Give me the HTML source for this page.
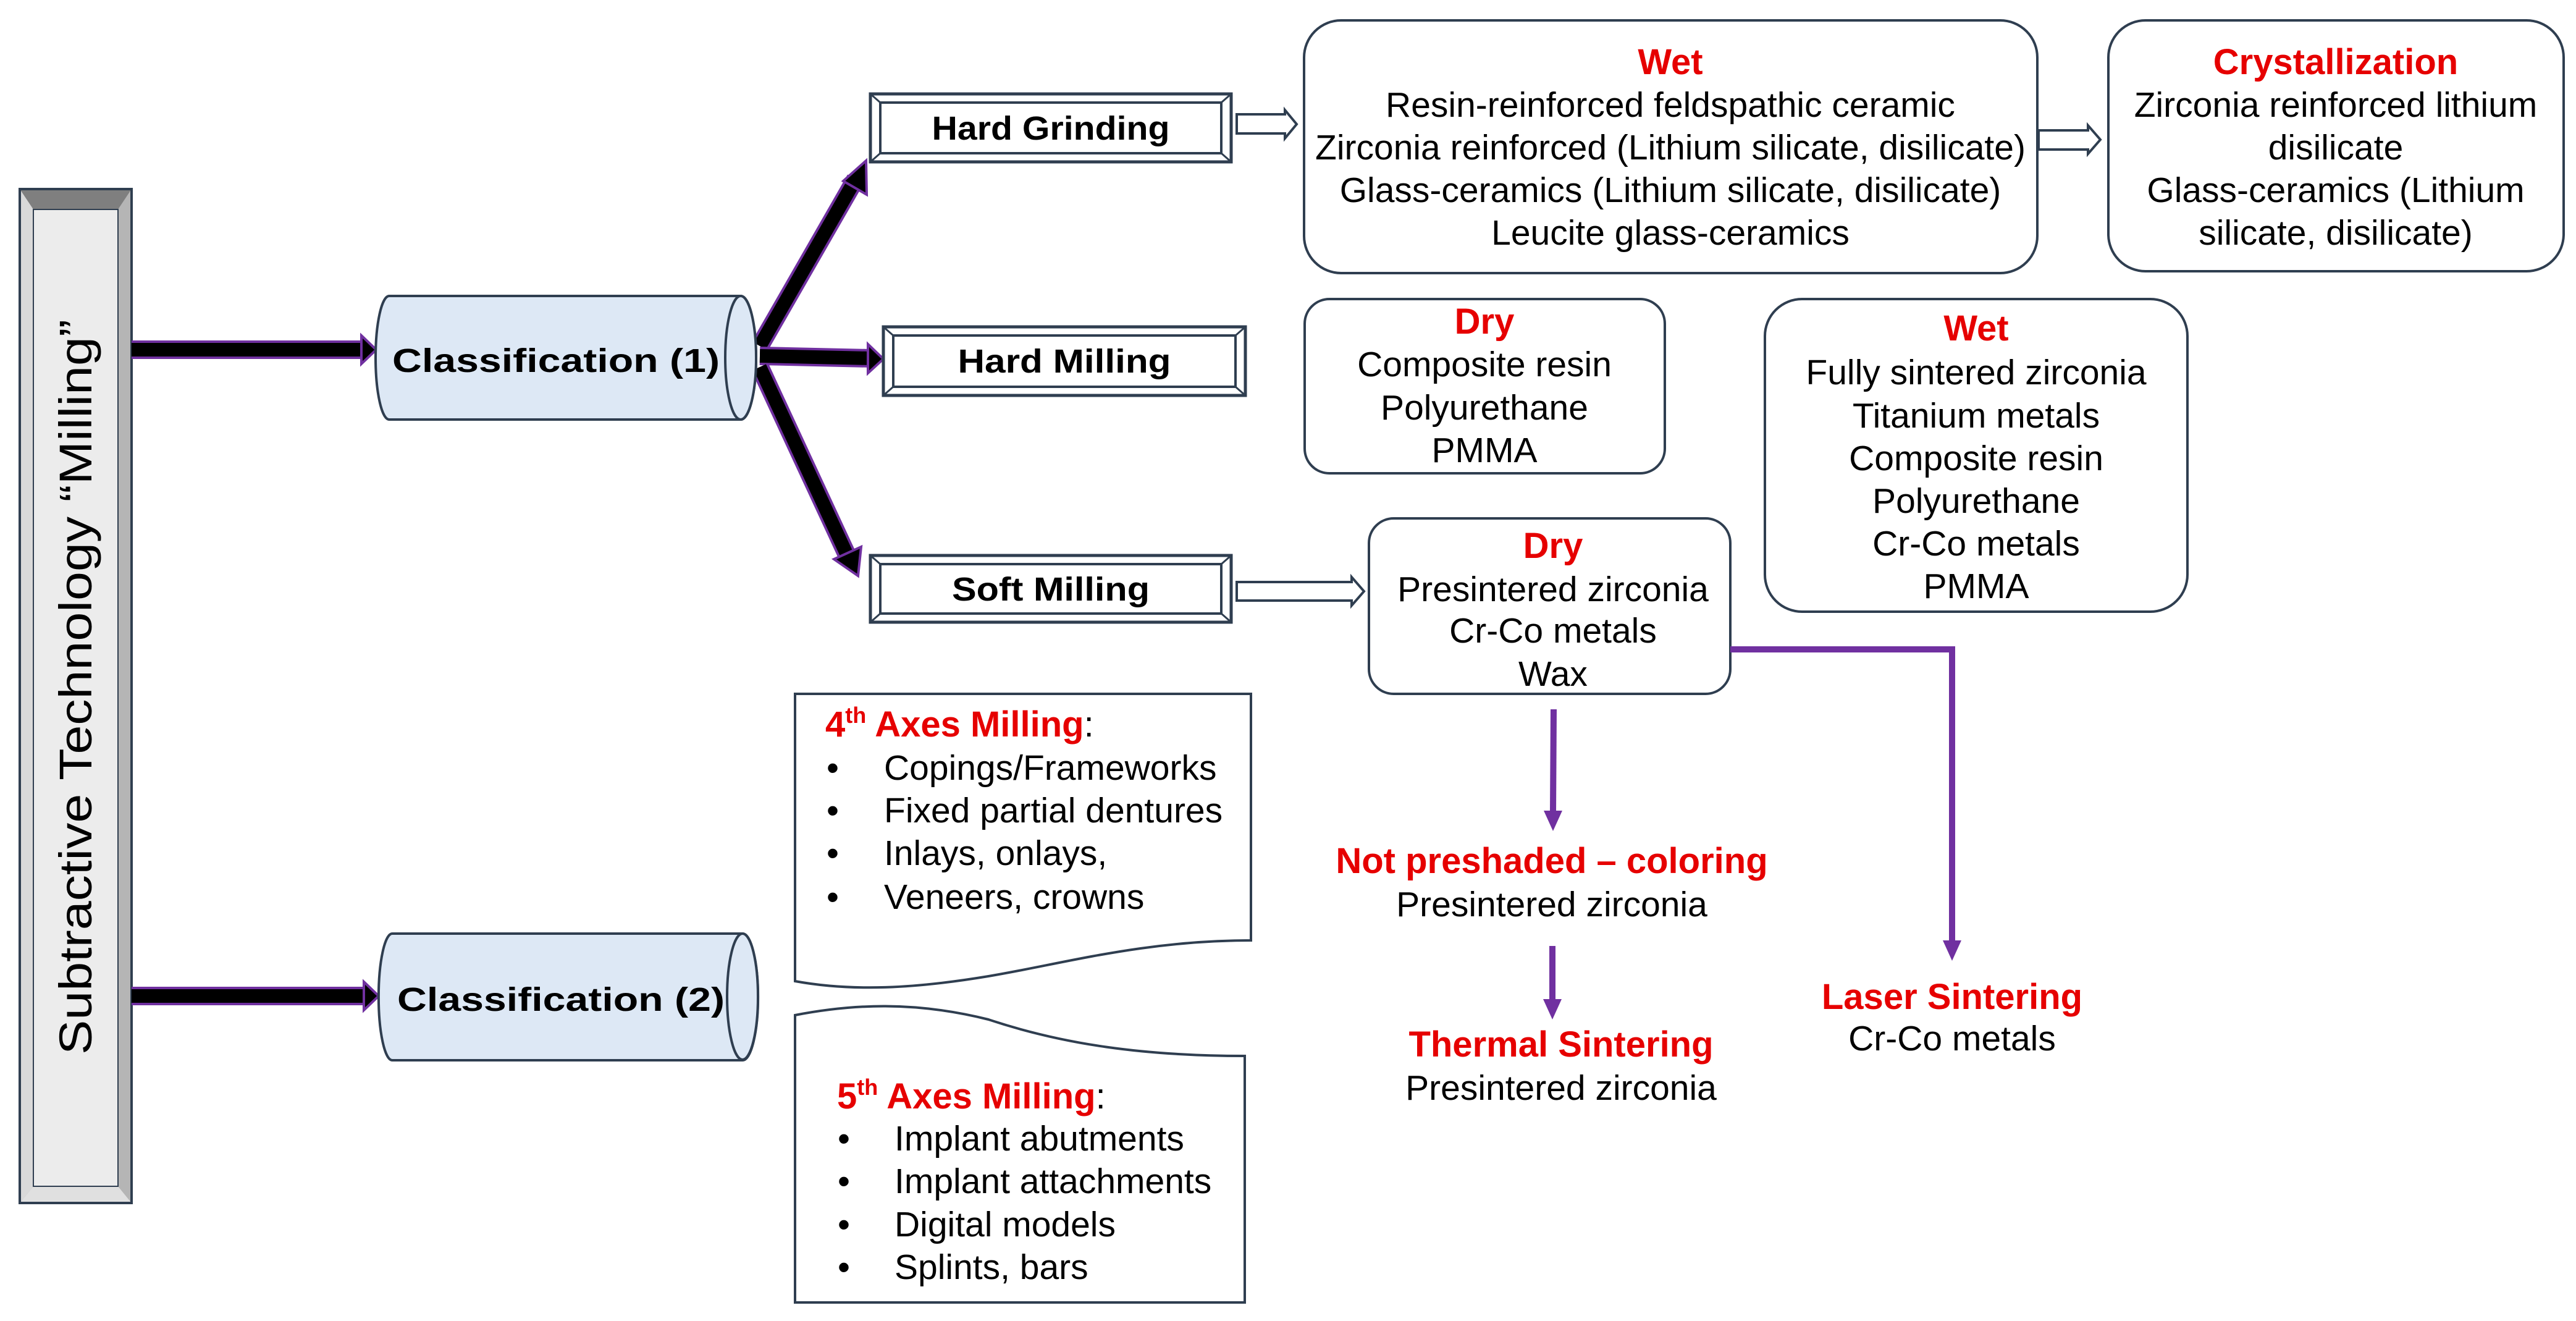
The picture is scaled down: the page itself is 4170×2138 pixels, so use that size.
<!DOCTYPE html>
<html><head><meta charset="utf-8"><style>
html,body{margin:0;padding:0;background:#fff;}
svg{display:block;font-family:"Liberation Sans",Arial,sans-serif;}
.t{font-size:57px;fill:#000;text-anchor:middle;}
.r{font-size:58px;fill:#e60000;font-weight:bold;text-anchor:middle;}
.b{font-size:54px;font-weight:bold;text-anchor:middle;fill:#000;}
.l{font-size:57px;fill:#000;}
</style></head><body>
<svg width="4170" height="2138" viewBox="0 0 4170 2138" xmlns="http://www.w3.org/2000/svg">
<!-- left bar -->
<rect x="32" y="306" width="181" height="1641" fill="#a6a6a6" stroke="#2f3e50" stroke-width="4"/>
<polygon points="32,306 213,306 191,339 54,339" fill="#7f7f7f"/>
<polygon points="32,306 54,339 54,1920 32,1947" fill="#d9d9d9"/>
<polygon points="213,306 191,339 191,1920 213,1947" fill="#b5b5b5"/>
<polygon points="32,1947 54,1920 191,1920 213,1947" fill="#e0e0e0"/>
<rect x="54" y="339" width="137" height="1581" fill="#ececec" stroke="#2f3e50" stroke-width="2"/>
<rect x="32" y="306" width="181" height="1641" fill="none" stroke="#2f3e50" stroke-width="4"/>
<text transform="translate(148,1112) rotate(-90)" text-anchor="middle" font-size="74" textLength="1190" lengthAdjust="spacingAndGlyphs" fill="#000">Subtractive Technology “Milling”</text>

<!-- thick arrows -->
<g stroke-linecap="butt">
<line x1="213" y1="566" x2="590" y2="566" stroke="#7030a0" stroke-width="30"/>
<line x1="213" y1="566" x2="590" y2="566" stroke="#000" stroke-width="22"/>
<polygon points="585,543 609,566 585,589" fill="#000" stroke="#7030a0" stroke-width="4"/>
<line x1="213" y1="1612" x2="594" y2="1612" stroke="#7030a0" stroke-width="30"/>
<line x1="213" y1="1612" x2="594" y2="1612" stroke="#000" stroke-width="22"/>
<polygon points="589,1589 613,1612 589,1635" fill="#000" stroke="#7030a0" stroke-width="4"/>

<line x1="1230" y1="560" x2="1385" y2="290" stroke="#7030a0" stroke-width="30"/>
<line x1="1230" y1="560" x2="1385" y2="290" stroke="#000" stroke-width="22"/>
<polygon points="1402,260 1403,315 1365,293" fill="#000" stroke="#7030a0" stroke-width="4"/>
<line x1="1230" y1="576" x2="1412" y2="580" stroke="#7030a0" stroke-width="30"/>
<line x1="1230" y1="576" x2="1412" y2="580" stroke="#000" stroke-width="22"/>
<polygon points="1405,557 1430,581 1405,604" fill="#000" stroke="#7030a0" stroke-width="4"/>
<line x1="1230" y1="594" x2="1372" y2="900" stroke="#7030a0" stroke-width="30"/>
<line x1="1230" y1="594" x2="1372" y2="900" stroke="#000" stroke-width="22"/>
<polygon points="1389,932 1350,905 1394,885" fill="#000" stroke="#7030a0" stroke-width="4"/>
</g>

<!-- cylinders -->
<g stroke="#2f3e50" stroke-width="4" fill="#dde8f5">
<path d="M630,479 L1199,479 A25,100 0 0 1 1199,679 L630,679 A22,100 0 0 1 630,479 Z"/>
<ellipse cx="1199" cy="579" rx="25" ry="100"/>
<path d="M635,1511 L1202,1511 A25,102 0 0 1 1202,1716 L635,1716 A22,102 0 0 1 635,1511 Z"/>
<ellipse cx="1202" cy="1613" rx="25" ry="102"/>
</g>
<text x="900" y="602" class="b" font-size="64" textLength="530" lengthAdjust="spacingAndGlyphs">Classification (1)</text>
<text x="908" y="1636" class="b" font-size="64" textLength="530" lengthAdjust="spacingAndGlyphs">Classification (2)</text>

<!-- double-border boxes -->
<g fill="#fff" stroke="#2f3e50" stroke-width="5">
<rect x="1409" y="152" width="584" height="110"/>
<rect x="1425" y="166" width="552" height="82" stroke-width="4"/>
<rect x="1430" y="529" width="586" height="111"/>
<rect x="1446" y="543" width="554" height="83" stroke-width="4"/>
<rect x="1409" y="899" width="584" height="108"/>
<rect x="1425" y="913" width="552" height="80" stroke-width="4"/>
</g>
<g stroke="#2f3e50" stroke-width="3">
<line x1="1409" y1="152" x2="1425" y2="166"/><line x1="1993" y1="152" x2="1977" y2="166"/><line x1="1409" y1="262" x2="1425" y2="248"/><line x1="1993" y1="262" x2="1977" y2="248"/>
<line x1="1430" y1="529" x2="1446" y2="543"/><line x1="2016" y1="529" x2="2000" y2="543"/><line x1="1430" y1="640" x2="1446" y2="626"/><line x1="2016" y1="640" x2="2000" y2="626"/>
<line x1="1409" y1="899" x2="1425" y2="913"/><line x1="1993" y1="899" x2="1977" y2="913"/><line x1="1409" y1="1007" x2="1425" y2="993"/><line x1="1993" y1="1007" x2="1977" y2="993"/>
</g>
<text x="1701" y="226" class="b" textLength="385" lengthAdjust="spacingAndGlyphs">Hard Grinding</text>
<text x="1723" y="603" class="b" textLength="345" lengthAdjust="spacingAndGlyphs">Hard Milling</text>
<text x="1701" y="972" class="b" textLength="320" lengthAdjust="spacingAndGlyphs">Soft Milling</text>

<!-- hollow arrows -->
<g fill="#fff" stroke="#2f3e50" stroke-width="4">
<polygon points="2002,185 2080,185 2080,178 2099,201 2080,224 2080,216 2002,216"/>
<polygon points="3300,211 3380,211 3380,203 3400,226 3380,249 3380,242 3300,242"/>
<polygon points="2002,942 2188,942 2188,934 2208,957 2188,980 2188,972 2002,972"/>
</g>

<!-- rounded boxes -->
<g fill="#fff" stroke="#2f3e50" stroke-width="4">
<rect x="2111" y="33" width="1187" height="409" rx="60"/>
<rect x="3413" y="33" width="737" height="406" rx="60"/>
<rect x="2112" y="484" width="583" height="282" rx="40"/>
<rect x="2857" y="484" width="684" height="506" rx="60"/>
<rect x="2216" y="839" width="585" height="284" rx="40"/>
</g>
<text x="2704" y="120" class="r">Wet</text>
<text x="2704" y="189" class="t">Resin-reinforced feldspathic ceramic</text>
<text x="2704" y="258" class="t">Zirconia reinforced (Lithium silicate, disilicate)</text>
<text x="2704" y="327" class="t">Glass-ceramics (Lithium silicate, disilicate)</text>
<text x="2704" y="396" class="t">Leucite glass-ceramics</text>

<text x="3781" y="120" class="r">Crystallization</text>
<text x="3781" y="189" class="t">Zirconia reinforced lithium</text>
<text x="3781" y="258" class="t">disilicate</text>
<text x="3781" y="327" class="t">Glass-ceramics (Lithium</text>
<text x="3781" y="396" class="t">silicate, disilicate)</text>

<text x="2403" y="540" class="r">Dry</text>
<text x="2403" y="609" class="t">Composite resin</text>
<text x="2403" y="679" class="t">Polyurethane</text>
<text x="2403" y="748" class="t">PMMA</text>

<text x="3199" y="551" class="r">Wet</text>
<text x="3199" y="622" class="t">Fully sintered zirconia</text>
<text x="3199" y="692" class="t">Titanium metals</text>
<text x="3199" y="761" class="t">Composite resin</text>
<text x="3199" y="830" class="t">Polyurethane</text>
<text x="3199" y="899" class="t">Cr-Co metals</text>
<text x="3199" y="968" class="t">PMMA</text>

<text x="2514" y="903" class="r">Dry</text>
<text x="2514" y="973" class="t">Presintered zirconia</text>
<text x="2514" y="1040" class="t">Cr-Co metals</text>
<text x="2514" y="1110" class="t">Wax</text>

<!-- purple connectors -->
<g stroke="#7030a0" stroke-width="10" fill="none">
<polyline points="2801,1051 3160,1051 3160,1525"/>
<line x1="2515" y1="1148" x2="2514" y2="1315"/>
<line x1="2513" y1="1531" x2="2513" y2="1620"/>
</g>
<g fill="#7030a0">
<polygon points="3145,1522 3175,1522 3160,1555"/>
<polygon points="2499,1312 2529,1312 2514,1345"/>
<polygon points="2498,1617 2528,1617 2513,1650"/>
</g>
<text x="2512" y="1413" class="r">Not preshaded – coloring</text>
<text x="2512" y="1483" class="t">Presintered zirconia</text>
<text x="2527" y="1710" class="r">Thermal Sintering</text>
<text x="2527" y="1780" class="t">Presintered zirconia</text>
<text x="3160" y="1633" class="r">Laser Sintering</text>
<text x="3160" y="1700" class="t">Cr-Co metals</text>

<!-- wave document boxes -->
<g fill="#fff" stroke="#2f3e50" stroke-width="4">
<path d="M1287,1123 L2025,1123 L2025,1522 C1850,1522 1720,1560 1600,1580 C1480,1600 1380,1605 1287,1588 Z"/>
<path d="M1287,1643 C1380,1625 1480,1620 1600,1650 C1720,1690 1850,1709 2015,1709 L2015,2108 L1287,2108 Z"/>
</g>
<text x="1336" y="1192" font-size="58" font-weight="bold" fill="#e60000">4<tspan font-size="36" dy="-22">th</tspan><tspan dy="22"> Axes Milling</tspan><tspan fill="#000" font-weight="normal">:</tspan></text>
<g class="l">
<text x="1338" y="1262">•</text><text x="1431" y="1262">Copings/Frameworks</text>
<text x="1338" y="1331">•</text><text x="1431" y="1331">Fixed partial dentures</text>
<text x="1338" y="1400">•</text><text x="1431" y="1400">Inlays, onlays,</text>
<text x="1338" y="1471">•</text><text x="1431" y="1471">Veneers, crowns</text>
</g>
<text x="1355" y="1794" font-size="58" font-weight="bold" fill="#e60000">5<tspan font-size="36" dy="-22">th</tspan><tspan dy="22"> Axes Milling</tspan><tspan fill="#000" font-weight="normal">:</tspan></text>
<g class="l">
<text x="1356" y="1862">•</text><text x="1448" y="1862">Implant abutments</text>
<text x="1356" y="1931">•</text><text x="1448" y="1931">Implant attachments</text>
<text x="1356" y="2001">•</text><text x="1448" y="2001">Digital models</text>
<text x="1356" y="2070">•</text><text x="1448" y="2070">Splints, bars</text>
</g>
</svg>
</body></html>
